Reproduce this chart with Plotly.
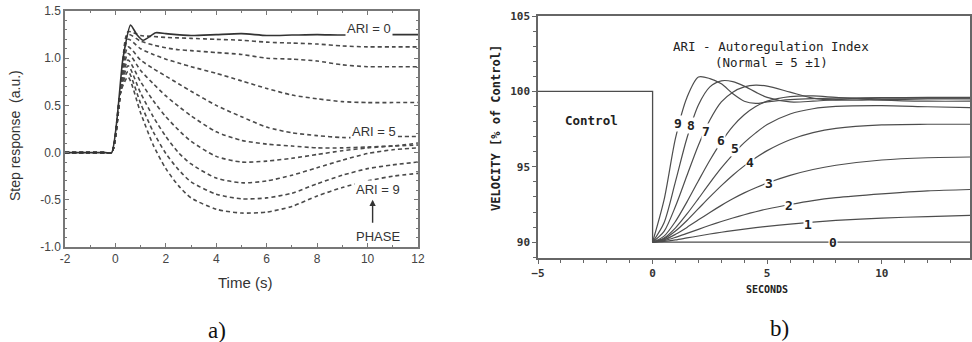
import plotly.graph_objects as go

# ---------------- Panel a) data ----------------
t_a0 = [-2, -1, -0.4, -0.15, 0.3, 0.6, 0.85, 1.1, 1.6, 2, 3, 4, 5, 6, 7, 8, 9, 10, 11, 12]
ari0_a = [0, 0, 0, 0, 1.0, 1.35, 1.25, 1.19, 1.27, 1.26, 1.24, 1.25, 1.26, 1.24, 1.245, 1.25, 1.245, 1.25, 1.25, 1.25]

t_a = [-2, -1, -0.4, -0.15, 0.2, 0.5, 1, 1.5, 2, 2.5, 3, 4, 5, 6, 7, 8, 9, 10, 11, 12]
ari1_a = [0, 0, 0, 0, 0.64, 1.28, 1.24, 1.23, 1.22, 1.215, 1.21, 1.20, 1.19, 1.17, 1.16, 1.15, 1.13, 1.12, 1.12, 1.12]
ari2_a = [0, 0, 0, 0, 0.64, 1.25, 1.18, 1.14, 1.11, 1.09, 1.08, 1.06, 1.04, 1.00, 0.99, 0.97, 0.93, 0.91, 0.91, 0.91]
ari3_a = [0, 0, 0, 0, 0.64, 1.20, 1.10, 1.04, 0.99, 0.95, 0.91, 0.84, 0.76, 0.68, 0.61, 0.57, 0.54, 0.53, 0.53, 0.53]
ari4_a = [0, 0, 0, 0, 0.64, 1.12, 0.98, 0.89, 0.81, 0.73, 0.65, 0.50, 0.38, 0.27, 0.21, 0.18, 0.16, 0.16, 0.17, 0.17]
ari5_a = [0, 0, 0, 0, 0.64, 1.05, 0.87, 0.73, 0.60, 0.49, 0.39, 0.22, 0.13, 0.09, 0.07, 0.05, 0.05, 0.06, 0.07, 0.08]
ari6_a = [0, 0, 0, 0, 0.64, 0.98, 0.75, 0.55, 0.38, 0.24, 0.12, -0.04, -0.10, -0.09, -0.06, -0.02, 0.02, 0.05, 0.07, 0.10]
ari7_a = [0, 0, 0, 0, 0.64, 0.92, 0.63, 0.38, 0.17, 0.0, -0.12, -0.27, -0.32, -0.30, -0.24, -0.16, -0.08, -0.01, 0.03, 0.05]
ari8_a = [0, 0, 0, 0, 0.64, 0.86, 0.52, 0.22, -0.01, -0.18, -0.31, -0.44, -0.49, -0.48, -0.43, -0.33, -0.24, -0.17, -0.13, -0.10]
ari9_a = [0, 0, 0, 0, 0.64, 0.80, 0.42, 0.08, -0.17, -0.35, -0.48, -0.60, -0.64, -0.63, -0.57, -0.46, -0.37, -0.30, -0.25, -0.22]
dashed_a = [ari1_a, ari2_a, ari3_a, ari4_a, ari5_a, ari6_a, ari7_a, ari8_a, ari9_a]

xticks_a = [-2, 0, 2, 4, 6, 8, 10, 12]
yticks_a = [-1.0, -0.5, 0.0, 0.5, 1.0, 1.5]

# ---------------- Panel b) data ----------------
ctrl_t = [-5, 0, 0]
ctrl_v = [100, 100, 90]

t_b = [0, 0.5, 1, 1.5, 2, 2.5, 3, 3.5, 4, 4.5, 5, 6, 7, 8, 10, 12, 14]
ari0_b = [90, 90, 90, 90, 90, 90, 90, 90, 90, 90, 90, 90, 90, 90, 90, 90, 90]
ari1_b = [90, 90.05, 90.15, 90.28, 90.41, 90.54, 90.66, 90.77, 90.87, 90.96, 91.05, 91.2, 91.33, 91.44, 91.6, 91.7, 91.78]
ari2_b = [90, 90.10, 90.32, 90.58, 90.85, 91.12, 91.37, 91.6, 91.82, 92.02, 92.2, 92.5, 92.76, 92.95, 93.2, 93.4, 93.5]
ari3_b = [90, 90.15, 90.52, 90.98, 91.48, 91.97, 92.44, 92.88, 93.27, 93.61, 93.92, 94.43, 94.82, 95.1, 95.45, 95.6, 95.65]
ari4_b = [90, 90.22, 90.74, 91.44, 92.22, 93.0, 93.75, 94.44, 95.06, 95.6, 96.07, 96.79, 97.26, 97.55, 97.78, 97.82, 97.82]
ari5_b = [90, 90.27, 90.95, 91.87, 92.89, 93.93, 94.92, 95.81, 96.6, 97.25, 97.8, 98.5, 98.85, 99.0, 99.05, 98.98, 98.92]
ari6_b = [90, 90.40, 91.38, 92.67, 94.07, 95.43, 96.65, 97.68, 98.45, 99.0, 99.35, 99.65, 99.7, 99.6, 99.42, 99.35, 99.35]
ari7_b = [90, 90.71, 92.38, 94.42, 96.43, 98.1, 99.3, 99.95, 100.3, 100.42, 100.35, 99.95, 99.55, 99.42, 99.45, 99.5, 99.5]
ari8_b = [90, 91.29, 94.03, 96.91, 99.1, 100.3, 100.7, 100.65, 100.35, 99.95, 99.6, 99.3, 99.35, 99.45, 99.55, 99.55, 99.55]
ari9_b = [90, 92.8, 96.9, 99.6, 100.95, 100.85, 100.5, 99.85, 99.35, 99.2, 99.3, 99.45, 99.52, 99.55, 99.58, 99.6, 99.6]
curves_b = [ari0_b, ari1_b, ari2_b, ari3_b, ari4_b, ari5_b, ari6_b, ari7_b, ari8_b, ari9_b]

lbl_b = ["9", "8", "7", "6", "5", "4", "3", "2", "1", "0"]
lbl_bx = [1.1, 1.66, 2.31, 3.0, 3.6, 4.24, 5.07, 5.94, 6.77, 7.86]
lbl_by = [97.85, 97.73, 97.33, 96.73, 96.2, 95.27, 93.87, 92.4, 91.2, 90.0]

xticks_b = [-5, 0, 5, 10]
yticks_b = [90, 95, 100, 105]

# ---------------- Figure ----------------
fig = go.Figure()
dash_col = "#4a4a4a"
for v in dashed_a:
    fig.add_trace(go.Scatter(x=t_a, y=v, mode="lines", xaxis="x", yaxis="y",
                             line=dict(color=dash_col, width=1.6, dash="4px,3px", shape="spline", smoothing=0.7),
                             showlegend=False, hoverinfo="skip"))
fig.add_trace(go.Scatter(x=t_a0, y=ari0_a, mode="lines", xaxis="x", yaxis="y",
                         line=dict(color="#333", width=1.6, shape="spline", smoothing=0.6),
                         showlegend=False, hoverinfo="skip"))

line_b = "#4d4d4d"
fig.add_trace(go.Scatter(x=ctrl_t, y=ctrl_v, mode="lines", xaxis="x2", yaxis="y2",
                         line=dict(color=line_b, width=1.3), showlegend=False, hoverinfo="skip"))
for v in curves_b:
    fig.add_trace(go.Scatter(x=t_b, y=v, mode="lines", xaxis="x2", yaxis="y2",
                             line=dict(color=line_b, width=1.2, shape="spline", smoothing=0.8),
                             showlegend=False, hoverinfo="skip"))

sans = "Liberation Sans, Arial, sans-serif"
mono = "DejaVu Sans Mono, monospace"
frame_a = "#777"
frame_b = "#666"

fig.update_layout(
    width=972, height=342, margin=dict(l=0, r=0, t=0, b=0, autoexpand=False),
    paper_bgcolor="white", plot_bgcolor="white",
    xaxis=dict(domain=[65/972, 418/972], range=[-2, 12], anchor="y", automargin=False,
               tickvals=xticks_a, ticktext=[str(v) for v in xticks_a],
               ticks="inside", ticklen=4, tickcolor=frame_a, showline=True, linecolor=frame_a,
               linewidth=1.5, mirror="ticks", showgrid=False, zeroline=False,
               tickfont=dict(family=sans, size=12, color="#444"),
               minor=dict(ticks="inside", dtick=1, ticklen=2, tickcolor=frame_a)),
    yaxis=dict(domain=[95/342, 331/342], range=[-1, 1.5], anchor="x", automargin=False,
               tickvals=yticks_a, ticktext=["-1.0", "-0.5", "0.0", "0.5", "1.0", "1.5"],
               ticks="inside", ticklen=4, tickcolor=frame_a, showline=True, linecolor=frame_a,
               linewidth=1.5, mirror="ticks", showgrid=False, zeroline=False,
               tickfont=dict(family=sans, size=12, color="#444"),
               minor=dict(ticks="inside", dtick=0.1, ticklen=2, tickcolor=frame_a)),
    xaxis2=dict(domain=[538/972, 970/972], range=[-5, 13.85], anchor="y2", automargin=False,
                tickvals=xticks_b, ticks="outside", ticklen=4, tickcolor=frame_b,
                showline=True, linecolor=frame_b, linewidth=1.5, mirror=True,
                showgrid=False, zeroline=False,
                tickfont=dict(family=mono, size=11, color="#333", weight="bold"),
                minor=dict(ticks="outside", dtick=1, ticklen=3, tickcolor=frame_b)),
    yaxis2=dict(domain=[84/342, 326/342], range=[88.95, 105], anchor="x2", automargin=False,
                tickvals=yticks_b, ticks="outside", ticklen=4, tickcolor=frame_b,
                showline=True, linecolor=frame_b, linewidth=1.5, mirror="ticks",
                showgrid=False, zeroline=False,
                tickfont=dict(family=mono, size=11, color="#333", weight="bold"),
                minor=dict(ticks="outside", dtick=1, ticklen=3, tickcolor=frame_b)),
)

ann = []
def add(**kw):
    kw.setdefault("xanchor", "center")
    kw.setdefault("yanchor", "middle")
    kw.setdefault("showarrow", False)
    ann.append(kw)

# panel a labels
add(x=15/972, y=(342-136)/342, xref="paper", yref="paper", text="Step response  (a.u.)",
    textangle=-90, font=dict(family=sans, size=14, color="#333"))
add(x=245/972, y=(342-282)/342, xref="paper", yref="paper", text="Time (s)",
    font=dict(family=sans, size=15, color="#333"))
add(x=217/972, y=(342-330)/342, xref="paper", yref="paper", text="a)",
    font=dict(family="Liberation Serif, Times New Roman, serif", size=23, color="#111"))
add(x=10.06, y=1.31, xref="x", yref="y", text="ARI = 0",
    bgcolor="white", borderpad=1, font=dict(family=sans, size=13, color="#333"))
add(x=10.26, y=0.225, xref="x", yref="y", text="ARI = 5",
    bgcolor="white", borderpad=1, font=dict(family=sans, size=13, color="#333"))
add(x=10.4, y=-0.39, xref="x", yref="y", text="ARI = 9",
    bgcolor="white", borderpad=1, font=dict(family=sans, size=13, color="#333"))
ann.append(dict(x=10.2, y=-0.50, xref="x", yref="y", ax=10.2, ay=-0.76, axref="x", ayref="y",
                text="", showarrow=True, arrowhead=2, arrowsize=0.9, arrowwidth=1.4, arrowcolor="#333"))
add(x=10.4, y=-0.89, xref="x", yref="y", text="PHASE",
    font=dict(family=sans, size=13, color="#333"))

# panel b labels
add(x=496/972, y=(342-128)/342, xref="paper", yref="paper", text="VELOCITY [% of Control]",
    textangle=-90, font=dict(family=mono, size=12, color="#222", weight="bold"))
add(x=767/972, y=(342-289)/342, xref="paper", yref="paper", text="SECONDS",
    font=dict(family=mono, size=10, color="#222", weight="bold"))
add(x=779/972, y=(342-328)/342, xref="paper", yref="paper", text="b)",
    font=dict(family="Liberation Serif, Times New Roman, serif", size=23, color="#111"))
add(x=771/972, y=(342-46)/342, xref="paper", yref="paper", text="ARI - Autoregulation Index",
    font=dict(family=mono, size=12.5, color="#222"))
add(x=771/972, y=(342-62)/342, xref="paper", yref="paper", text="(Normal = 5 ±1)",
    font=dict(family=mono, size=12.5, color="#222"))
add(x=-2.66, y=98.1, xref="x2", yref="y2", text="Control",
    font=dict(family=mono, size=12.5, color="#222", weight="bold"))
for s, lx, ly in zip(lbl_b, lbl_bx, lbl_by):
    add(x=lx, y=ly, xref="x2", yref="y2", text=s, bgcolor="white",
        borderpad=0, font=dict(family=mono, size=13, color="#222", weight="bold"))

fig.update_layout(annotations=ann)
fig.write_html("out.html")
